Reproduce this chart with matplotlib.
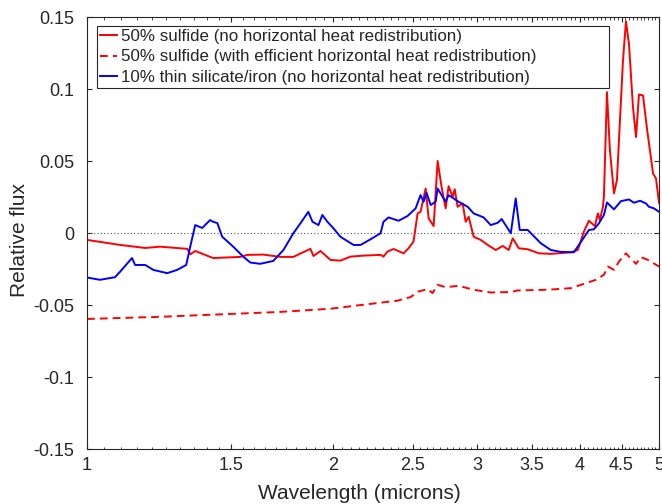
import numpy as np
import matplotlib.pyplot as plt
from matplotlib.ticker import NullFormatter

plt.rcParams['font.family'] = ['Liberation Sans', 'DejaVu Sans']

# 50% sulfide, no horizontal heat redistribution
wl_red = [1.000, 1.098, 1.178, 1.228, 1.326, 1.337, 1.356, 1.426, 1.539, 1.570,
          1.642, 1.723, 1.787, 1.875, 1.891, 1.929, 1.984, 2.040, 2.099, 2.177,
          2.284, 2.303, 2.329, 2.369, 2.437, 2.471, 2.506, 2.535, 2.556, 2.593,
          2.615, 2.652, 2.682, 2.712, 2.743, 2.766, 2.798, 2.814, 2.837, 2.878,
          2.902, 2.927, 2.968, 3.028, 3.088, 3.158, 3.221, 3.276, 3.313, 3.370,
          3.456, 3.565, 3.688, 3.902, 3.979, 4.047, 4.105, 4.175, 4.210, 4.234,
          4.270, 4.282, 4.319, 4.355, 4.405, 4.442, 4.518, 4.556, 4.595, 4.647,
          4.687, 4.726, 4.780, 4.834, 4.917, 4.958, 5.000]
flux_red = [-0.0048, -0.0083, -0.0104, -0.0095, -0.0110, -0.0148, -0.0125, -0.0174, -0.0166, -0.0152,
            -0.0150, -0.0166, -0.0166, -0.0110, -0.0160, -0.0125, -0.0187, -0.0192, -0.0164, -0.0157,
            -0.0152, -0.0164, -0.0129, -0.0111, -0.0141, -0.0106, -0.0060, 0.0136, 0.0147, 0.0309,
            0.0102, 0.0048, 0.0500, 0.0320, 0.0171, 0.0325, 0.0251, 0.0304, 0.0182, 0.0205,
            0.0078, 0.0113, -0.0026, -0.0048, -0.0083, -0.0118, -0.0090, -0.0118, -0.0037, -0.0106,
            -0.0113, -0.0141, -0.0145, -0.0134, -0.0118, 0.0009, 0.0085, 0.0048, 0.0136, 0.0090,
            0.0182, 0.0251, 0.0978, 0.0574, 0.0275, 0.0367, 0.1197, 0.1470, 0.1313, 0.0874,
            0.0666, 0.0962, 0.0955, 0.0724, 0.0413, 0.0379, 0.0210]

# 50% sulfide, efficient horizontal heat redistribution
wl_dash = [1.000, 1.228, 1.426, 1.723, 1.984, 2.177, 2.396, 2.485, 2.542, 2.607,
           2.644, 2.682, 2.743, 2.845, 2.968, 3.114, 3.295, 3.360, 3.657, 3.902,
           4.047, 4.187, 4.282, 4.331, 4.405, 4.467, 4.556, 4.595, 4.687, 4.753,
           4.848, 5.000]
flux_dash = [-0.0597, -0.0582, -0.0567, -0.0548, -0.0526, -0.0498, -0.0470, -0.0445, -0.0406, -0.0390,
             -0.0417, -0.0360, -0.0376, -0.0367, -0.0394, -0.0413, -0.0410, -0.0399, -0.0394, -0.0383,
             -0.0353, -0.0325, -0.0290, -0.0233, -0.0256, -0.0199, -0.0141, -0.0164, -0.0214, -0.0168,
             -0.0187, -0.0233]

# 10% thin silicate/iron, no horizontal heat redistribution
wl_blue = [1.000, 1.037, 1.082, 1.098, 1.119, 1.135, 1.145, 1.178, 1.205, 1.253,
           1.289, 1.322, 1.337, 1.356, 1.383, 1.414, 1.426, 1.443, 1.463, 1.509,
           1.552, 1.583, 1.628, 1.689, 1.738, 1.787, 1.823, 1.864, 1.886, 1.918,
           1.939, 1.967, 2.001, 2.040, 2.117, 2.159, 2.220, 2.284, 2.303, 2.336,
           2.403, 2.464, 2.521, 2.556, 2.578, 2.600, 2.630, 2.667, 2.682, 2.743,
           2.766, 2.806, 2.845, 2.919, 2.968, 3.053, 3.114, 3.176, 3.212, 3.295,
           3.341, 3.379, 3.456, 3.585, 3.688, 3.793, 3.935, 3.991, 4.105, 4.163,
           4.222, 4.282, 4.319, 4.405, 4.492, 4.595, 4.660, 4.740, 4.821, 4.861,
           4.930, 5.000]
flux_blue = [-0.0309, -0.0325, -0.0307, -0.0268, -0.0214, -0.0174, -0.0222, -0.0222, -0.0256, -0.0279,
             -0.0256, -0.0222, -0.0095, 0.0055, 0.0035, 0.0090, 0.0078, 0.0069, -0.0026, -0.0095,
             -0.0164, -0.0205, -0.0214, -0.0194, -0.0118, -0.0002, 0.0067, 0.0147, 0.0078, 0.0055,
             0.0125, 0.0078, 0.0032, -0.0026, -0.0083, -0.0083, -0.0044, -0.0002, 0.0078, 0.0108,
             0.0085, 0.0118, 0.0171, 0.0263, 0.0217, 0.0279, 0.0194, 0.0217, 0.0309, 0.0217,
             0.0263, 0.0240, 0.0217, 0.0182, 0.0136, 0.0108, 0.0055, 0.0071, 0.0097, -0.0002,
             0.0240, 0.0021, 0.0021, -0.0071, -0.0118, -0.0131, -0.0134, -0.0083, 0.0021, 0.0026,
             0.0067, 0.0125, 0.0212, 0.0164, 0.0221, 0.0233, 0.0210, 0.0224, 0.0205, 0.0182,
             0.0171, 0.0147]

labels = ["50% sulfide (no horizontal heat redistribution)",
          "50% sulfide (with efficient horizontal heat redistribution)",
          "10% thin silicate/iron (no horizontal heat redistribution)"]
xticks = [1, 1.5, 2, 2.5, 3, 3.5, 4, 4.5, 5]
xtick_labels = ["1", "1.5", "2", "2.5", "3", "3.5", "4", "4.5", "5"]
yticks = [-0.15, -0.1, -0.05, 0, 0.05, 0.1, 0.15]
ytick_labels = ["-0.15", "-0.1", "-0.05", "0", "0.05", "0.1", "0.15"]

dark = '#262626'

fig = plt.figure(figsize=(6.62, 5.04), dpi=100)
ax = fig.add_axes([87 / 662, 55 / 504, 572 / 662, 432 / 504])

ax.axhline(0, color='0.35', lw=0.8, ls=(0, (1, 2)))
ax.plot(wl_red, flux_red, color='red', lw=1.4, label=labels[0])
ax.plot(wl_dash, flux_dash, color='red', lw=1.4, ls=(0, (4, 2.6)), label=labels[1])
ax.plot(wl_blue, flux_blue, color='blue', lw=1.4, label=labels[2])

ax.set_xscale('log')
ax.set_xlim(1, 5)
ax.set_ylim(-0.15, 0.15)
ax.set_xticks(xticks, xtick_labels)
ax.set_xticks(np.arange(1.05, 5.0, 0.05), minor=True)
ax.xaxis.set_minor_formatter(NullFormatter())
ax.set_yticks(yticks, ytick_labels)

ax.tick_params(which='both', direction='in', top=True, right=True, colors=dark, labelsize=13)
ax.tick_params(axis='x', which='major', length=3.5, pad=6)
ax.tick_params(axis='x', which='minor', length=1.8)
ax.tick_params(axis='y', which='major', length=3.5, pad=9)
for s in ax.spines.values():
    s.set_color(dark)
    s.set_linewidth(0.8)

ax.set_xlabel("Wavelength (microns)", fontsize=15, color=dark, labelpad=7)
ax.set_ylabel("Relative flux", fontsize=15, color=dark, labelpad=3)
ax.xaxis.label.set_x(0.477)
ax.yaxis.label.set_y(0.484)

# legend box is wider than its text in the original
leg = ax.legend(loc='upper left', bbox_to_anchor=(10 / 572, 0.5, 512 / 572, 1 - 9 / 432 - 0.5),
                mode='expand', borderaxespad=0,
                fontsize=12.2, handlelength=1.0, handletextpad=0.2, labelspacing=0.3,
                borderpad=0.2, fancybox=False, framealpha=1)
leg.get_frame().set_edgecolor(dark)
leg.get_frame().set_linewidth(0.8)
for t in leg.get_texts():
    t.set_color(dark)

fig.savefig("out.png", dpi=100)
